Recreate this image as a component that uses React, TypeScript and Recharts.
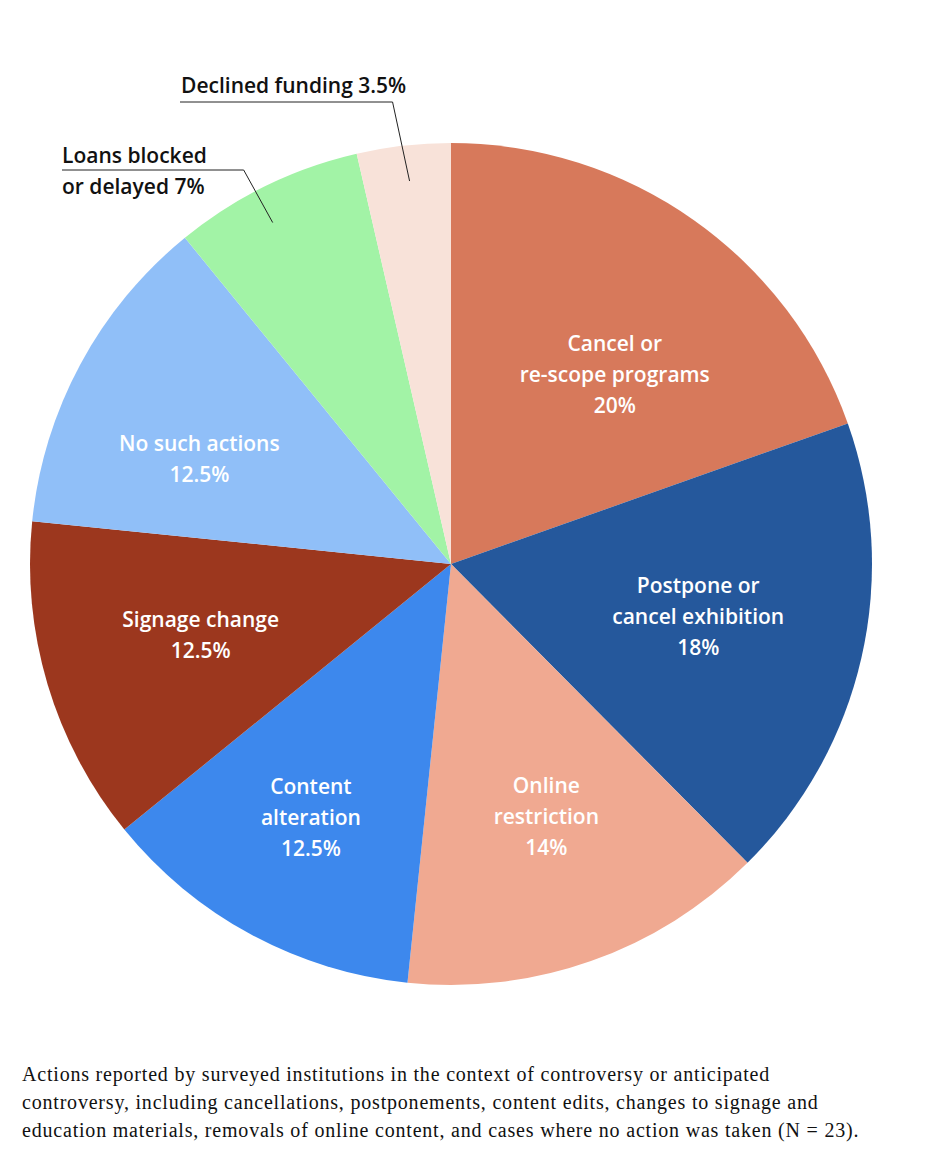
import { PieChart, Pie, Cell } from 'recharts'

const CATEGORIES = [
  'Cancel or re-scope programs',
  'Postpone or cancel exhibition',
  'Online restriction',
  'Content alteration',
  'Signage change',
  'No such actions',
  'Loans blocked or delayed',
  'Declined funding',
]
// slice sizes (%)
const SHARES = [19.6, 18, 14.1, 12.5, 12.5, 12.5, 7.3, 3.6]
// printed percentages
const PCT_LABELS = ['20%', '18%', '14%', '12.5%', '12.5%', '12.5%', '7%', '3.5%']
const LABEL_LINES = [
  ['Cancel or', 're-scope programs'],
  ['Postpone or', 'cancel exhibition'],
  ['Online', 'restriction'],
  ['Content', 'alteration'],
  ['Signage change'],
  ['No such actions'],
  ['Loans blocked', 'or delayed'],
  ['Declined funding'],
]

const COLORS = ['#d7795b', '#25589c', '#f0a991', '#3d88ed', '#9c371e', '#90bff8', '#a2f3a6', '#f8e2d9']
// label placement: share of radius, and clockwise nudge (deg) from the slice middle
const LABEL_RADIUS = [0.596, 0.6, 0.64, 0.686, 0.618, 0.648, 0.915, 0.915]
const LABEL_NUDGE = [5.5, -1, -1.3, 0.6, 0.8, -5.6, -1.5, 0.3]
const FONT = '"Open Sans", "Noto Sans", sans-serif'
const FS = 21
const RAD = Math.PI / 180

const data = CATEGORIES.map((name, i) => ({ name, value: SHARES[i] }))

function renderLabel(props: any) {
  const { cx, cy, midAngle, outerRadius, index } = props
  const lines = LABEL_LINES[index]
  const pct = PCT_LABELS[index]
  const a = midAngle - LABEL_NUDGE[index]
  const r = outerRadius * LABEL_RADIUS[index]
  const x = cx + r * Math.cos(-a * RAD)
  const y = cy + r * Math.sin(-a * RAD)

  if (index < 6) {
    const all = [...lines, pct]
    const lh = 31
    const top = y - ((all.length - 1) * lh) / 2
    return (
      <text key={`l-${index}`} x={x} textAnchor="middle" fill="#fff" fontFamily={FONT} fontSize={FS} fontWeight={600}>
        {all.map((t, j) => (
          <tspan key={j} x={x} y={top + j * lh} dominantBaseline="central">
            {t}
          </tspan>
        ))}
      </text>
    )
  }

  // outside annotations with leader lines
  if (index === 7) {
    return (
      <g key={`l-${index}`}>
        <polyline points={`180,102 ${x - 17},102 ${x},${y}`} fill="none" stroke="#222" strokeWidth={1} />
        <text x={181} y={85} dominantBaseline="central" fill="#111" fontFamily={FONT} fontSize={FS} fontWeight={600}>
          {`${lines[0]} ${pct}`}
        </text>
      </g>
    )
  }
  return (
    <g key={`l-${index}`}>
      <polyline points={`62,170 ${x - 29},170 ${x},${y}`} fill="none" stroke="#222" strokeWidth={1} />
      <text fill="#111" fontFamily={FONT} fontSize={FS} fontWeight={600}>
        <tspan x={62} y={155} dominantBaseline="central">{lines[0]}</tspan>
        <tspan x={62} y={186} dominantBaseline="central">{`${lines[1]} ${pct}`}</tspan>
      </text>
    </g>
  )
}

export default function App() {
  return (
    <div style={{ position: 'absolute', left: 0, top: 0, width: 938, height: 1166, background: '#fff' }}>
      <PieChart width={938} height={1040} margin={{ top: 0, right: 0, bottom: 0, left: 0 }}>
        <Pie
          data={data}
          dataKey="value"
          nameKey="name"
          cx={451}
          cy={564}
          outerRadius={421}
          startAngle={90}
          endAngle={-270}
          stroke="none"
          label={renderLabel}
          labelLine={false}
          isAnimationActive={false}
        >
          {data.map((d, i) => (
            <Cell key={d.name} fill={COLORS[i]} />
          ))}
        </Pie>
      </PieChart>
      <div
        style={{
          position: 'absolute',
          left: 22,
          top: 1060,
          fontFamily: '"Liberation Serif", serif',
          fontSize: 20,
          letterSpacing: 0.8,
          lineHeight: '28px',
          color: '#111',
          whiteSpace: 'nowrap',
        }}
      >
        Actions reported by surveyed institutions in the context of controversy or anticipated
        <br />
        controversy, including cancellations, postponements, content edits, changes to signage and
        <br />
        education materials, removals of online content, and cases where no action was taken (N = 23).
      </div>
    </div>
  )
}
